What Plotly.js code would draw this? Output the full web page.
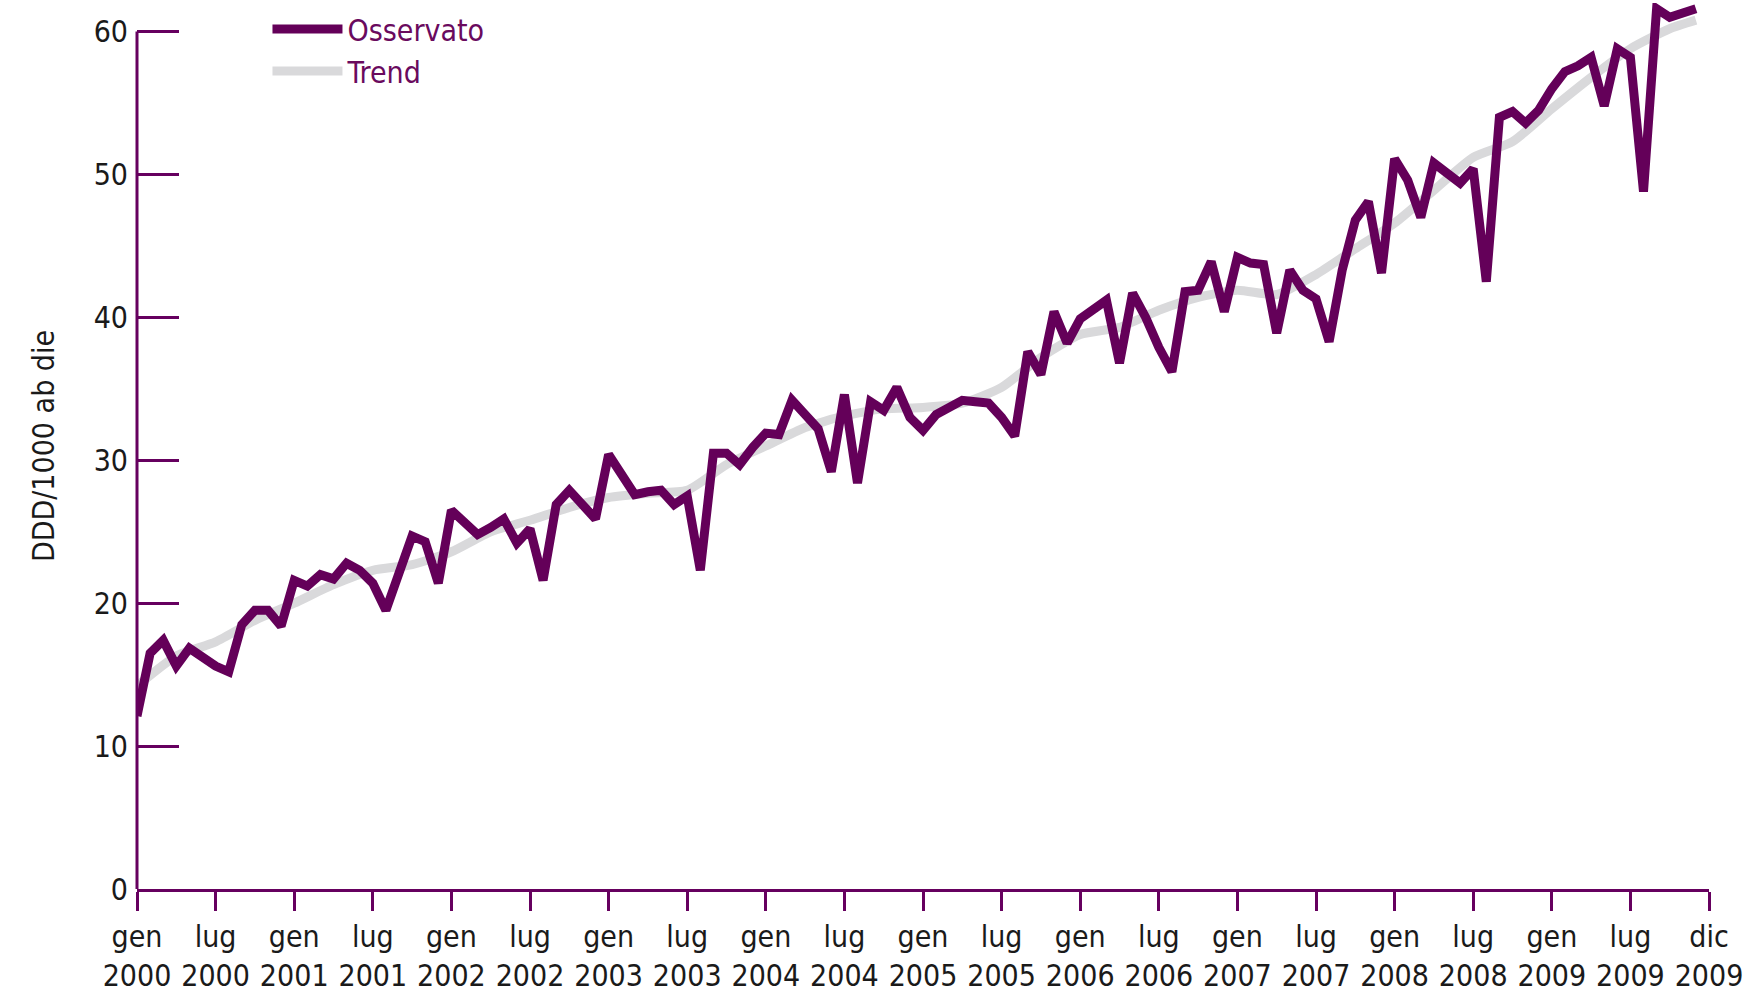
<!DOCTYPE html>
<html>
<head>
<meta charset="utf-8">
<script src="https://cdn.plot.ly/plotly-3.0.1.min.js"></script>
<style>
  html, body { margin: 0; padding: 0; background: #ffffff; }
  #chart { width: 1753px; height: 992px; }
</style>
</head>
<body>
<div id="chart"></div>
<script>
// Monthly observed values, gen 2000 (month 0) .. dic 2009 (month 119)
const observed = [
  12.1, 16.5, 17.4, 15.6, 16.85, 16.2, 15.6, 15.2, 18.5, 19.5, 19.5, 18.4,
  21.6, 21.2, 22.0, 21.7, 22.8, 22.3, 21.4, 19.5, 22.2, 24.7, 24.3, 21.4,
  26.5, 25.6, 24.8, 25.3, 25.9, 24.2, 25.2, 21.6, 26.9, 27.9, 26.9, 25.9,
  30.4, 29.0, 27.6, 27.8, 27.9, 26.9, 27.5, 22.3, 30.5, 30.5, 29.7, 30.9,
  31.9, 31.8, 34.2, 33.2, 32.2, 29.2, 34.6, 28.4, 34.1, 33.5, 35.1, 33.0,
  32.1, 33.2, 33.75, 34.2, 34.1, 34.0, 33.0, 31.7, 37.6, 36.0, 40.4, 38.2,
  39.9, 40.5, 41.2, 36.8, 41.7, 40.0, 37.9, 36.2, 41.8, 41.9, 43.9, 40.4,
  44.2, 43.8, 43.7, 38.9, 43.3, 41.9, 41.3, 38.3, 43.3, 46.8, 48.1, 43.1,
  51.1, 49.6, 47.0, 50.8, 50.1, 49.4, 50.4, 42.5, 54.0, 54.4, 53.6, 54.5,
  56.0, 57.2, 57.6, 58.2, 54.8, 58.8, 58.2, 48.8, 61.6, 61.0, 61.3, 61.6
];
const observedMonths = observed.map((_, i) => i);

// Trend read at selected months
const trendMonths = [0, 3, 6, 9, 12, 15, 18, 21, 24, 27, 30, 33, 36, 39, 42, 45, 48, 51, 54, 57,
  60, 63, 66, 69, 72, 75, 78, 81, 84, 87, 90, 93, 96, 99, 102, 105, 108, 111, 114, 117, 119];
const trend = [14.2, 16.3, 17.3, 18.8, 20.0, 21.3, 22.3, 22.7, 23.6, 25.0, 25.8, 26.7, 27.4, 27.7,
  27.9, 29.7, 31.0, 32.3, 33.1, 33.6, 33.7, 34.0, 35.1, 37.2, 38.8, 39.3, 40.5, 41.4, 41.9, 41.6,
  43.0, 44.8, 46.6, 48.9, 51.2, 52.3, 54.6, 56.8, 58.8, 60.2, 60.8];

// Axis ticks
const xTickMonths = [0, 6, 12, 18, 24, 30, 36, 42, 48, 54, 60, 66, 72, 78, 84, 90, 96, 102, 108, 114, 120];
const xTickLabels = [
  "gen<br>2000", "lug<br>2000", "gen<br>2001", "lug<br>2001", "gen<br>2002", "lug<br>2002",
  "gen<br>2003", "lug<br>2003", "gen<br>2004", "lug<br>2004", "gen<br>2005", "lug<br>2005",
  "gen<br>2006", "lug<br>2006", "gen<br>2007", "lug<br>2007", "gen<br>2008", "lug<br>2008",
  "gen<br>2009", "lug<br>2009", "dic<br>2009"
];
const yTicks = [0, 10, 20, 30, 40, 50, 60];
const yAxisTop = 60;

const PURPLE = "#640059";
const AXIS = "#66005f";
const FONT = "'Liberation Sans Narrow', 'DejaVu Sans Condensed', 'Liberation Sans', sans-serif";

const traces = [
  {
    x: trendMonths, y: trend, name: "Trend", type: "scatter", mode: "lines",
    line: { color: "#d9d9db", width: 9, shape: "spline", smoothing: 0.6 },
    hoverinfo: "skip"
  },
  {
    x: observedMonths, y: observed, name: "Osservato", type: "scatter", mode: "lines",
    line: { color: PURPLE, width: 9 }
  }
];

const layout = {
  width: 1753, height: 992,
  paper_bgcolor: "#ffffff", plot_bgcolor: "#ffffff",
  margin: { l: 137, r: 44, t: 3, b: 103 },
  font: { family: FONT, size: 26, color: "#1a1a1a" },
  showlegend: true,
  legend: {
    x: 0.083, y: 1.0, xanchor: "left", yanchor: "top",
    traceorder: "reversed",
    font: { family: FONT, size: 30, color: "#6a0a5e" },
    bgcolor: "rgba(0,0,0,0)",
    tracegroupgap: 0, itemwidth: 70
  },
  xaxis: {
    range: [0, 120], showgrid: false, zeroline: false,
    showline: true, linecolor: AXIS, linewidth: 3,
    ticks: "outside", ticklen: 19, tickwidth: 3, tickcolor: AXIS,
    tickmode: "array", tickvals: xTickMonths, ticktext: xTickLabels,
    tickfont: { family: FONT, size: 30, color: "#1a1a1a" }
  },
  yaxis: {
    range: [0, 62], showgrid: false, zeroline: false,
    showline: false,
    ticks: "inside", ticklen: 42, tickwidth: 3, tickcolor: AXIS,
    tickmode: "array", tickvals: yTicks,
    tickfont: { family: FONT, size: 30, color: "#1a1a1a" },
    ticklabelstandoff: 8,
    title: { text: "DDD/1000 ab die", standoff: 30, font: { family: FONT, size: 30, color: "#1a1a1a" } }
  },
  shapes: [
    { type: "line", xref: "paper", yref: "y", x0: 0, x1: 0, y0: 0, y1: yAxisTop,
      line: { color: AXIS, width: 3 }, layer: "above" }
  ]
};

Plotly.newPlot("chart", traces, layout, { displayModeBar: false, staticPlot: true });
</script>
</body>
</html>
